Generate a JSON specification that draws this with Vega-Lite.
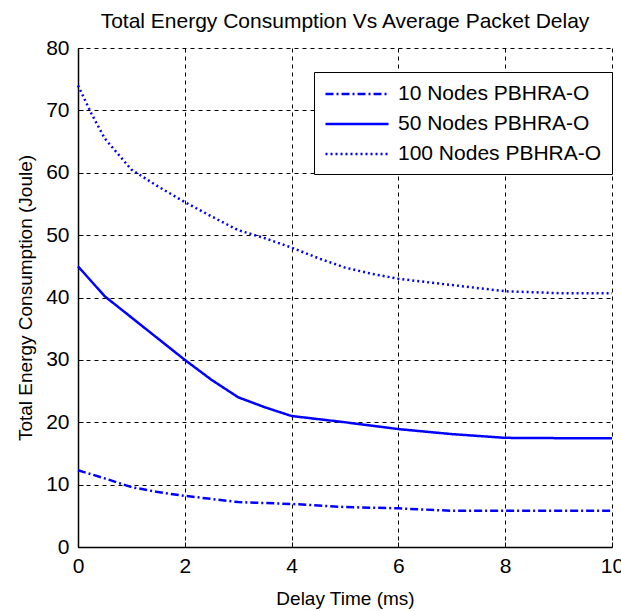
{
  "$schema": "https://vega.github.io/schema/vega-lite/v6.json",
  "width": 534,
  "height": 499,
  "autosize": {"type": "none"},
  "padding": {"left": 78, "top": 48, "right": 9, "bottom": 64},
  "background": "white",
  "title": {"text": "Total Energy Consumption Vs Average Packet Delay", "font": "Liberation Sans", "fontSize": 21, "fontWeight": "normal", "color": "black", "offset": 5},
  "config": {"view": {"stroke": null}},
  "data": {"values": [
    {"s": "10 Nodes PBHRA-O", "x": 0, "y": 12.3},
    {"s": "10 Nodes PBHRA-O", "x": 0.5, "y": 11.0},
    {"s": "10 Nodes PBHRA-O", "x": 1, "y": 9.6},
    {"s": "10 Nodes PBHRA-O", "x": 1.5, "y": 8.8},
    {"s": "10 Nodes PBHRA-O", "x": 2, "y": 8.2},
    {"s": "10 Nodes PBHRA-O", "x": 3, "y": 7.2},
    {"s": "10 Nodes PBHRA-O", "x": 4, "y": 6.9},
    {"s": "10 Nodes PBHRA-O", "x": 5, "y": 6.4},
    {"s": "10 Nodes PBHRA-O", "x": 6, "y": 6.2},
    {"s": "10 Nodes PBHRA-O", "x": 7, "y": 5.8},
    {"s": "10 Nodes PBHRA-O", "x": 8, "y": 5.8},
    {"s": "10 Nodes PBHRA-O", "x": 9, "y": 5.8},
    {"s": "10 Nodes PBHRA-O", "x": 10, "y": 5.8},
    {"s": "50 Nodes PBHRA-O", "x": 0, "y": 45},
    {"s": "50 Nodes PBHRA-O", "x": 0.5, "y": 40.2},
    {"s": "50 Nodes PBHRA-O", "x": 1, "y": 36.8},
    {"s": "50 Nodes PBHRA-O", "x": 1.5, "y": 33.4},
    {"s": "50 Nodes PBHRA-O", "x": 2, "y": 30},
    {"s": "50 Nodes PBHRA-O", "x": 2.5, "y": 26.8},
    {"s": "50 Nodes PBHRA-O", "x": 3, "y": 24},
    {"s": "50 Nodes PBHRA-O", "x": 3.5, "y": 22.4},
    {"s": "50 Nodes PBHRA-O", "x": 4, "y": 21},
    {"s": "50 Nodes PBHRA-O", "x": 5, "y": 20},
    {"s": "50 Nodes PBHRA-O", "x": 6, "y": 18.9},
    {"s": "50 Nodes PBHRA-O", "x": 7, "y": 18.1},
    {"s": "50 Nodes PBHRA-O", "x": 8, "y": 17.5},
    {"s": "50 Nodes PBHRA-O", "x": 9, "y": 17.45},
    {"s": "50 Nodes PBHRA-O", "x": 10, "y": 17.45},
    {"s": "100 Nodes PBHRA-O", "x": 0, "y": 74},
    {"s": "100 Nodes PBHRA-O", "x": 0.25, "y": 69.5},
    {"s": "100 Nodes PBHRA-O", "x": 0.5, "y": 65.5},
    {"s": "100 Nodes PBHRA-O", "x": 1, "y": 60.5},
    {"s": "100 Nodes PBHRA-O", "x": 1.5, "y": 57.8},
    {"s": "100 Nodes PBHRA-O", "x": 2, "y": 55.3},
    {"s": "100 Nodes PBHRA-O", "x": 2.5, "y": 53},
    {"s": "100 Nodes PBHRA-O", "x": 3, "y": 50.8},
    {"s": "100 Nodes PBHRA-O", "x": 3.5, "y": 49.5},
    {"s": "100 Nodes PBHRA-O", "x": 4, "y": 48},
    {"s": "100 Nodes PBHRA-O", "x": 4.5, "y": 46.3},
    {"s": "100 Nodes PBHRA-O", "x": 5, "y": 44.8},
    {"s": "100 Nodes PBHRA-O", "x": 5.5, "y": 43.8},
    {"s": "100 Nodes PBHRA-O", "x": 6, "y": 43},
    {"s": "100 Nodes PBHRA-O", "x": 7, "y": 42},
    {"s": "100 Nodes PBHRA-O", "x": 7.5, "y": 41.5},
    {"s": "100 Nodes PBHRA-O", "x": 8, "y": 41},
    {"s": "100 Nodes PBHRA-O", "x": 9, "y": 40.7},
    {"s": "100 Nodes PBHRA-O", "x": 10, "y": 40.7}
  ]},
  "mark": {"type": "line", "color": "#0000ff", "strokeWidth": 2.5},
  "encoding": {
    "x": {"field": "x", "type": "quantitative", "scale": {"domain": [0, 10], "nice": false},
      "axis": {"title": "Delay Time (ms)", "values": [0, 2, 4, 6, 8, 10], "titleFont": "Liberation Sans", "titleFontSize": 19, "titleFontWeight": "normal", "titleColor": "black", "titlePadding": 13,
        "labelFont": "Liberation Sans", "labelFontSize": 21, "labelColor": "black", "labelPadding": 13, "labelFlush": false,
        "domainColor": "black", "domainWidth": 1.5, "tickColor": "black", "tickSize": -5, "tickWidth": 1,
        "grid": true, "gridColor": "black", "gridDash": [4, 4], "gridWidth": 1, "gridOpacity": 1}},
    "y": {"field": "y", "type": "quantitative", "scale": {"domain": [0, 80], "nice": false},
      "axis": {"title": "Total Energy Consumption (Joule)", "values": [0, 10, 20, 30, 40, 50, 60, 70, 80], "titleFont": "Liberation Sans", "titleFontSize": 19, "titleFontWeight": "normal", "titleColor": "black", "titlePadding": 10,
        "labelFont": "Liberation Sans", "labelFontSize": 21, "labelColor": "black", "labelPadding": 14, "labelFlush": false,
        "domainColor": "black", "domainWidth": 1.5, "tickColor": "black", "tickSize": -5, "tickWidth": 1,
        "grid": true, "gridColor": "black", "gridDash": [4, 4], "gridWidth": 1, "gridOpacity": 1}},
    "strokeDash": {"field": "s", "type": "nominal",
      "scale": {"domain": ["10 Nodes PBHRA-O", "50 Nodes PBHRA-O", "100 Nodes PBHRA-O"], "range": [[8, 3, 2, 3], [1, 0], [2, 3]]},
      "legend": {"title": null, "orient": "none", "legendX": 236, "legendY": 24,
        "symbolType": "M-1,0H5", "symbolSize": 441, "symbolStrokeColor": "#0000ff", "symbolStrokeWidth": 2.5, "symbolFillColor": "transparent",
        "labelFont": "Liberation Sans", "labelFontSize": 21, "labelColor": "black", "labelOffset": 50, "labelLimit": 400,
        "strokeColor": "black", "fillColor": "white", "padding": 10, "rowPadding": 8}}
  }
}
